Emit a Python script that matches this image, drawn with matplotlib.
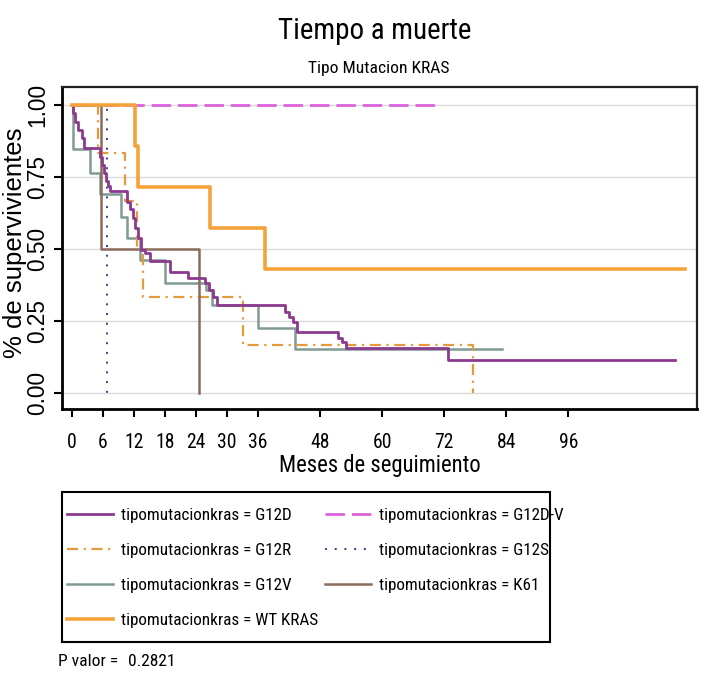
import os
import matplotlib
matplotlib.use("Agg")
import matplotlib.pyplot as plt
from matplotlib import font_manager
from matplotlib.font_manager import FontProperties
from matplotlib.patches import Rectangle

# Kaplan-Meier step estimates by KRAS mutation type (months, survival proportion)
g12d_t = [0, 0.25, 0.6, 1.2, 1.9, 2.3, 5.4, 5.8, 6.2, 6.6, 7.0, 7.4, 10.6, 11.2,
          11.8, 12.2, 12.8, 13.4, 14.2, 15.0, 19.0, 22.5, 25.7, 26.5, 27.3, 28.0,
          41.2, 42.0, 42.7, 43.6, 51.5, 52.2, 53.0, 72.7, 116.6]
g12d_s = [1.0, 0.971, 0.942, 0.913, 0.885, 0.850, 0.820, 0.792, 0.763, 0.735,
          0.718, 0.700, 0.664, 0.640, 0.607, 0.572, 0.537, 0.497, 0.485, 0.458,
          0.421, 0.398, 0.381, 0.358, 0.334, 0.306, 0.282, 0.265, 0.247, 0.213,
          0.190, 0.178, 0.155, 0.115, 0.115]

g12dv_t = [0, 70.8]
g12dv_s = [1.0, 1.0]

g12r_t = [0, 5.1, 10.3, 12.5, 13.7, 33.1, 77.6]
g12r_s = [1.0, 0.833, 0.667, 0.500, 0.333, 0.167, 0.0]

g12s_t = [0, 6.8]
g12s_s = [1.0, 0.0]

g12v_t = [0, 0.25, 3.5, 5.5, 9.5, 10.6, 13.2, 18.0, 26.0, 27.0, 36.0, 43.1, 83.2]
g12v_s = [1.0, 0.846, 0.763, 0.690, 0.612, 0.537, 0.461, 0.381, 0.358, 0.306,
          0.225, 0.152, 0.152]

k61_t = [0, 5.7, 24.6]
k61_s = [1.0, 0.5, 0.0]

wt_t = [0, 12.2, 12.8, 26.7, 37.3, 118.6]
wt_s = [1.0, 0.857, 0.714, 0.571, 0.429, 0.429]

x_ticks = [0, 6, 12, 18, 24, 30, 36, 48, 60, 72, 84, 96]
y_ticks = [0.0, 0.25, 0.50, 0.75, 1.0]
y_ticklabels = ["0.00", "0.25", "0.50", "0.75", "1.00"]
p_value = "0.2821"


def pick_fonts():
    installed = {f.name for f in font_manager.fontManager.ttflist}
    reg = "Liberation Sans" if "Liberation Sans" in installed else "DejaVu Sans"
    reg_fp = FontProperties(family=reg)
    prefs = ["liberation sans narrow", "arial narrow", "roboto condensed",
             "open sans condensed", "noto sans", "dejavu sans"]
    best = None
    for f in font_manager.fontManager.ttflist:
        base = os.path.basename(f.fname).lower()
        nm = f.name.lower()
        tag = nm + " " + base
        if "mono" in tag or "serif" in tag.replace("sans", "") or "cjk" in tag:
            continue
        if f.style != "normal":
            continue
        if f.weight not in (400, "normal", "regular"):
            continue
        is_narrow = ("narrow" in tag or ("condensed" in tag and "semi" not in tag
                     and "extra" not in tag and "ultra" not in tag)
                     or f.stretch == "condensed")
        if not is_narrow:
            continue
        rank = len(prefs)
        for i, p in enumerate(prefs):
            if nm.startswith(p):
                rank = i
                break
        if best is None or rank < best[0]:
            best = (rank, f.fname)
    narrow = FontProperties(fname=best[1]) if best else FontProperties(family=reg)
    return reg_fp, narrow


REG_FP, NARROW_FP = pick_fonts()

W, H = 709, 687
fig = plt.figure(figsize=(W / 100, H / 100), dpi=100)
fig.patch.set_facecolor("white")
renderer = fig.canvas.get_renderer()


def sized(fp, text, target_px, boost=1.0):
    """Font properties scaled so that `text` spans about target_px pixels."""
    p = fp.copy()
    p.set_size(20)
    w, _, _ = renderer.get_text_width_height_descent(text, p, ismath=False)
    p.set_size(20 * target_px / w * boost)
    return p


BOOST = 1.05

left, right, top, bottom = 62, 697, 87, 409
ax = fig.add_axes([left / W, 1 - bottom / H, (right - left) / W, (bottom - top) / H])
ax.set_xlim(-1.93, 120.9)
ax.set_ylim(-0.056, 1.0625)

for y in y_ticks:
    ax.axhline(y, color="#dadada", lw=1.0, zorder=0)

series = [
    ("tipomutacionkras = G12S", g12s_t, g12s_s, "#3c3c8c", 1.4, (0, (1, 4))),
    ("tipomutacionkras = G12D-V", g12dv_t, g12dv_s, "#dc62dc", 2.0, (0, (7, 2.5))),
    ("tipomutacionkras = G12V", g12v_t, g12v_s, "#7f9b93", 1.8, "-"),
    ("tipomutacionkras = G12R", g12r_t, g12r_s, "#e49b3e", 1.6, (0, (5, 2.5, 1, 2.5))),
    ("tipomutacionkras = K61", k61_t, k61_s, "#8b6b5b", 1.8, "-"),
    ("tipomutacionkras = G12D", g12d_t, g12d_s, "#8b3a8f", 2.0, "-"),
    ("tipomutacionkras = WT KRAS", wt_t, wt_s, "#f5a23a", 2.6, "-"),
]
handles = {}
for label, t, s, c, lw, ls in series:
    (ln,) = ax.step(t, s, where="post", color=c, lw=lw, linestyle=ls, label=label)
    handles[label] = ln

for side in ["top", "right"]:
    ax.spines[side].set_linewidth(1.6)
    ax.spines[side].set_color("#222222")
for side in ["left", "bottom"]:
    ax.spines[side].set_linewidth(2.0)
    ax.spines[side].set_color("black")

xtick_fp = sized(NARROW_FP, "84", 18.5, BOOST)
ytick_fp = sized(REG_FP, "0.25", 44)
ax.set_xticks(x_ticks)
ax.set_xticklabels([str(v) for v in x_ticks], fontproperties=xtick_fp)
ax.set_yticks(y_ticks)
ax.set_yticklabels(y_ticklabels, rotation=90, va="center", fontproperties=ytick_fp)
ax.tick_params(axis="x", length=6, width=1.5, pad=11, colors="black")
ax.tick_params(axis="y", length=6, width=1.5, pad=3, colors="black")

ax.set_xlabel("Meses de seguimiento",
              fontproperties=sized(NARROW_FP, "Meses de seguimiento", 192, BOOST))
ax.xaxis.set_label_coords(0.5, (bottom - 454) / (bottom - top))
ax.set_ylabel("% de supervivientes",
              fontproperties=sized(REG_FP, "% de supervivientes", 230))
ax.yaxis.set_label_coords((27 - left) / (right - left), (bottom - 243) / (bottom - top))

fig.text(375 / W, 1 - 31 / H, "Tiempo a muerte", ha="center", va="center",
         fontproperties=sized(NARROW_FP, "Tiempo a muerte", 184, BOOST))
fig.text(379 / W, 1 - 68 / H, "Tipo Mutacion KRAS", ha="center", va="center",
         fontproperties=sized(NARROW_FP, "Tipo Mutacion KRAS", 134, BOOST))

# Legend entries in two columns, inside a fixed box below the plot
order = ["tipomutacionkras = G12D", "tipomutacionkras = G12R",
         "tipomutacionkras = G12V", "tipomutacionkras = WT KRAS",
         "tipomutacionkras = G12D-V", "tipomutacionkras = G12S",
         "tipomutacionkras = K61"]
leg_fp = sized(NARROW_FP, "tipomutacionkras = G12D", 167, 1.02)
fs_px = leg_fp.get_size() * 100 / 72
row_h = 1.17 * fs_px - 6
leg = fig.legend([handles[k] for k in order], order, ncol=2,
                 loc="upper left",
                 bbox_to_anchor=(67 / W, 1 - (515 - row_h / 2) / H),
                 prop=leg_fp, frameon=False, handlelength=46 / fs_px,
                 handletextpad=8 / fs_px, columnspacing=7 / fs_px,
                 labelspacing=(34 - row_h) / fs_px,
                 borderpad=0, borderaxespad=0)
fig.add_artist(Rectangle((62 / W, 1 - 642 / H), 488 / W, 150 / H,
                         transform=fig.transFigure, fill=False,
                         edgecolor="black", linewidth=1.5))

pv_fp = sized(NARROW_FP, "P valor =", 57, BOOST)
fig.text(58 / W, 1 - 662 / H, "P valor =", ha="left", va="center", fontproperties=pv_fp)
fig.text(128 / W, 1 - 662 / H, p_value, ha="left", va="center", fontproperties=pv_fp)

fig.savefig("out.png", dpi=100, facecolor="white")
